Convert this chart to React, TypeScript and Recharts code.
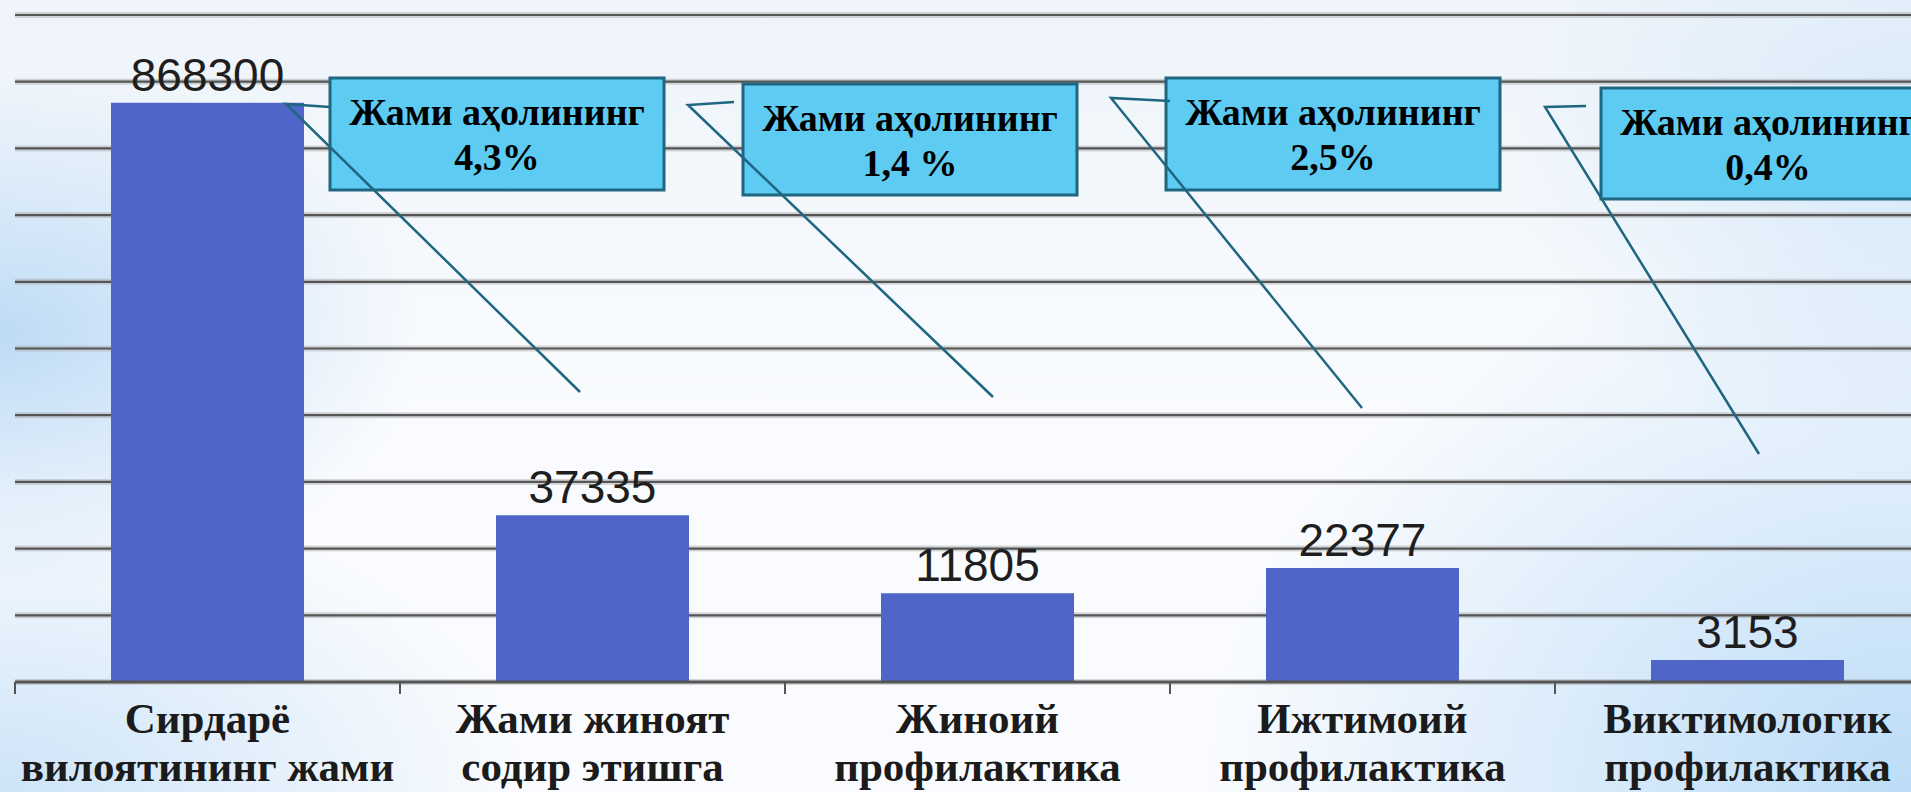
import React from "react";
import { BarChart, Bar, XAxis, YAxis, CartesianGrid, LabelList } from "recharts";

// Category labels (two visible lines each)
const categoryLine1 = ["Сирдарё", "Жами жиноят", "Жиноий", "Ижтимоий", "Виктимологик"];
const categoryLine2 = ["вилоятининг жами", "содир этишга", "профилактика", "профилактика", "профилактика"];
// Numbers printed above the bars
const valueLabels = [868300, 37335, 11805, 22377, 3153];
// Bar heights as drawn in the picture (axis units, gridline = 100000)
const barHeights = [868300, 250000, 133000, 171000, 33000];
// Y axis gridline ticks
const yTicks = [0, 100000, 200000, 300000, 400000, 500000, 600000, 700000, 800000, 900000, 1000000];
// Callout texts
const calloutTitle = "Жами аҳолининг";
const calloutPercents = ["4,3%", "1,4 %", "2,5%", "0,4%"];

const data = categoryLine1.map((c, i) => ({
  name: c,
  line2: categoryLine2[i],
  height: barHeights[i],
  label: valueLabels[i],
}));

const CategoryTick = (props: any) => {
  const { x, y, payload, index } = props;
  const off = payload && typeof payload.offset === "number" ? payload.offset : 0;
  const i = payload && typeof payload.index === "number" ? payload.index : index;
  return (
    <g>
      <line x1={x - off} x2={x - off} y1={y} y2={y + 12} stroke="#555" strokeWidth={2} />
      <text
        x={x}
        y={y + 51}
        textAnchor="middle"
        fontFamily="'Liberation Serif', 'Times New Roman', serif"
        fontWeight="bold"
        fontSize={43}
        fill="#1b1b1b"
      >
        {categoryLine1[i]}
      </text>
      <text
        x={x}
        y={y + 99}
        textAnchor="middle"
        fontFamily="'Liberation Serif', 'Times New Roman', serif"
        fontWeight="bold"
        fontSize={43}
        fill="#1b1b1b"
      >
        {categoryLine2[i]}
      </text>
    </g>
  );
};

// Callout annotation layout (boxes and leader lines)
const calloutBoxes = [
  { x: 330, y: 78, w: 334, h: 112 },
  { x: 743, y: 84, w: 334, h: 111 },
  { x: 1166, y: 78, w: 334, h: 112 },
  { x: 1601, y: 88, w: 334, h: 111 },
];
const calloutLeaders = [
  "330,107 286,104 580,392",
  "734,102 688,105 993,397",
  "1170,101 1111,98 1362,408",
  "1586,106 1545,107 1759,454",
];

const Callouts = () => (
  <svg
    width={1911}
    height={792}
    style={{ position: "absolute", left: 0, top: 0, pointerEvents: "none" }}
  >
    {calloutBoxes.map((b, i) => (
      <g key={"b" + i}>
        <rect x={b.x} y={b.y} width={b.w} height={b.h} fill="#5DCBF2" stroke="#1F6680" strokeWidth={3} />
        <text
          x={b.x + b.w / 2}
          y={b.y + 47}
          textAnchor="middle"
          fontFamily="'Liberation Serif', 'Times New Roman', serif"
          fontWeight="bold"
          fontSize={38}
          fill="#000"
        >
          {calloutTitle}
        </text>
        <text
          x={b.x + b.w / 2}
          y={b.y + 92}
          textAnchor="middle"
          fontFamily="'Liberation Serif', 'Times New Roman', serif"
          fontWeight="bold"
          fontSize={38}
          fill="#000"
        >
          {calloutPercents[i]}
        </text>
      </g>
    ))}
    {calloutLeaders.map((p, i) => (
      <polyline key={"l" + i} points={p} fill="none" stroke="#1F6680" strokeWidth={2.5} />
    ))}
  </svg>
);

export default function App() {
  return (
    <div
      style={{
        position: "fixed",
        left: 0,
        top: 0,
        width: 1911,
        height: 792,
        overflow: "hidden",
        backgroundColor: "#F6F9FD",
        backgroundImage:
          "radial-gradient(ellipse 420px 260px at 0% 42%, rgba(190,219,245,1) 0%, rgba(190,219,245,0) 100%)," +
          "radial-gradient(ellipse 700px 560px at 100% 100%, rgba(188,220,247,1) 0%, rgba(188,220,247,0) 100%)," +
          "radial-gradient(ellipse 520px 300px at 0% 100%, rgba(205,228,248,1) 0%, rgba(205,228,248,0) 100%)," +
          "radial-gradient(ellipse 400px 300px at 100% 20%, rgba(215,233,249,1) 0%, rgba(215,233,249,0) 100%)," +
          "linear-gradient(180deg, #EEF4FA 0%, #F9FBFE 50%, #F9FBFE 100%)",
      }}
    >
      <BarChart
        width={1940}
        height={792}
        data={data}
        margin={{ top: 15, right: 0, left: 15, bottom: 0 }}
      >
        <CartesianGrid vertical={false} stroke="#a8a8a8" strokeWidth={6} strokeOpacity={0.45} />
        <CartesianGrid vertical={false} stroke="#555" strokeWidth={2.2} />
        <YAxis hide domain={[0, 1000000]} ticks={yTicks} />
        <XAxis
          dataKey="name"
          height={110}
          axisLine={{ stroke: "#555", strokeWidth: 3 }}
          tickLine={false}
          tickSize={0}
          tickMargin={0}
          interval={0}
          tick={<CategoryTick />}
        />
        <Bar dataKey="height" fill="#4F66C8" barSize={193} isAnimationActive={false}>
          <LabelList
            dataKey="label"
            position="top"
            offset={12}
            fill="#1e1e1e"
            fontSize={46}
            fontFamily="'Liberation Sans', Arial, sans-serif"
          />
        </Bar>
      </BarChart>
      <Callouts />
    </div>
  );
}
